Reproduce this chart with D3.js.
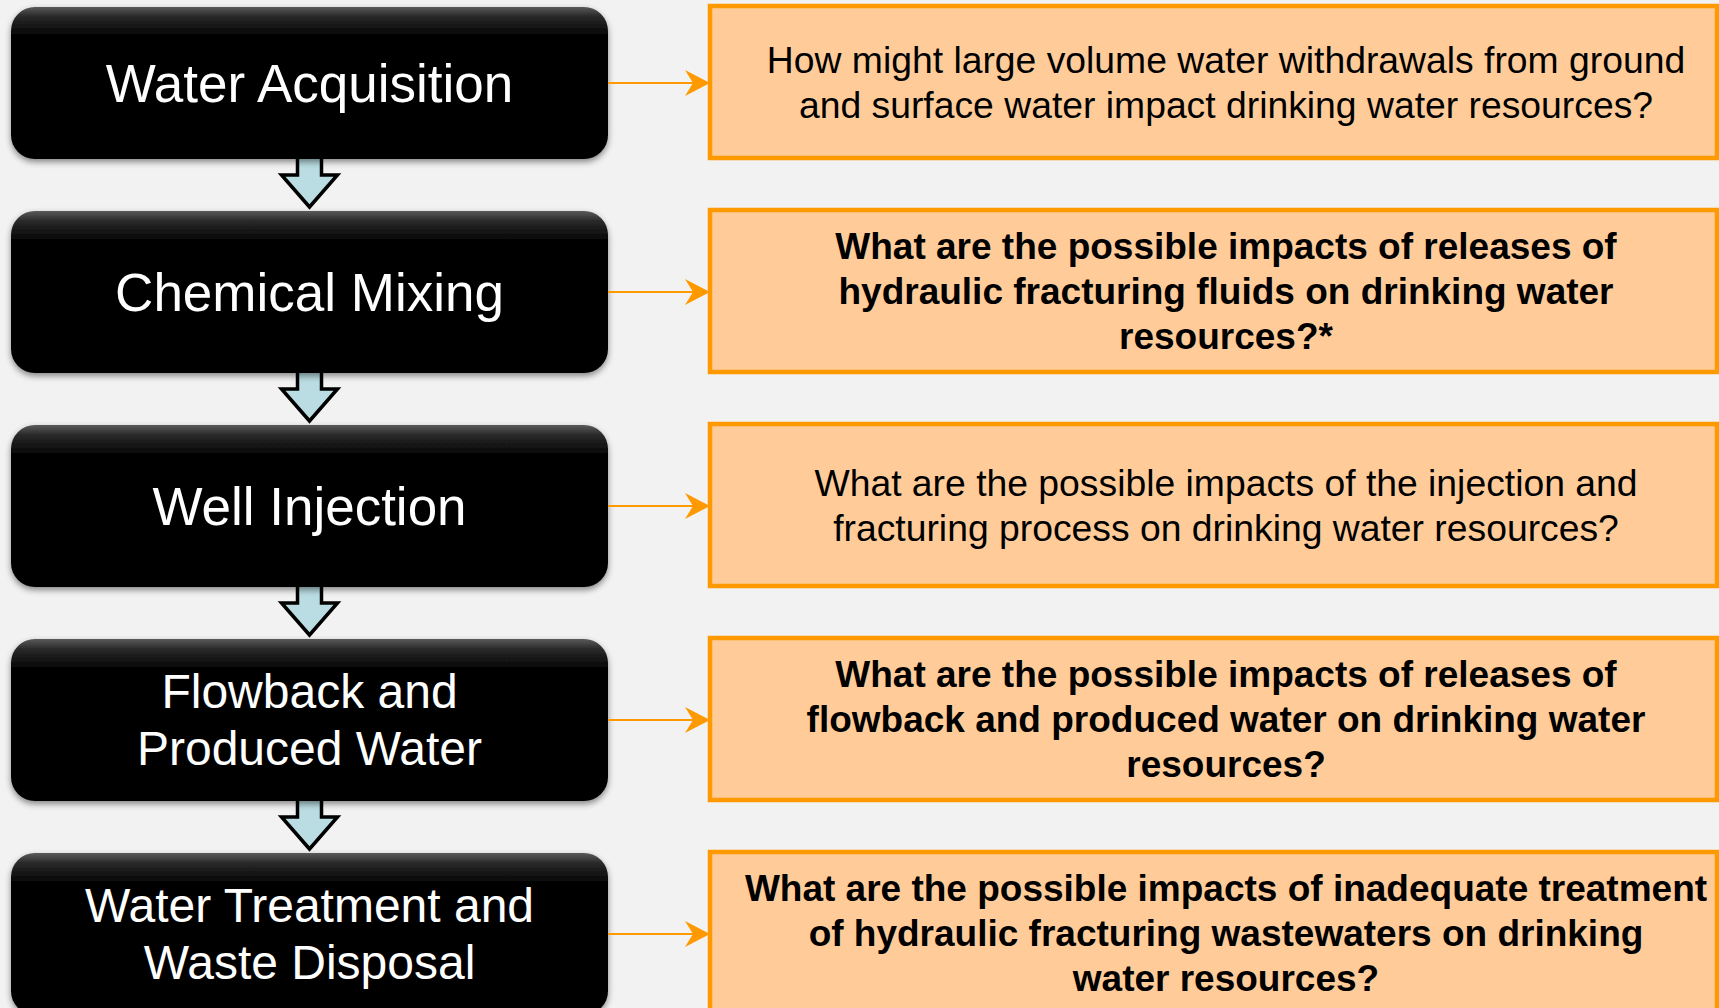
<!DOCTYPE html>
<html>
<head>
<meta charset="utf-8">
<script src="https://cdn.jsdelivr.net/npm/d3@7"></script>
<style>
  html, body { margin: 0; padding: 0; background: #f2f2f2; overflow: hidden; }
  text { font-family: "Liberation Sans", Arial, sans-serif; }
</style>
</head>
<body>
<div id="chart"></div>
<script>
// process stages (left column)
const stages = ['Water Acquisition', 'Chemical Mixing', 'Well Injection',
                'Flowback and Produced Water', 'Water Treatment and Waste Disposal']
const stageLines = [
    ['Water Acquisition'],
    ['Chemical Mixing'],
    ['Well Injection'],
    ['Flowback and', 'Produced Water'],
    ['Water Treatment and', 'Waste Disposal']
]
// research questions (right column)
const questionLines = [
    ['How might large volume water withdrawals from ground', 'and surface water impact drinking water resources?'],
    ['What are the possible impacts of releases of', 'hydraulic fracturing fluids on drinking water', 'resources?*'],
    ['What are the possible impacts of the injection and', 'fracturing process on drinking water resources?'],
    ['What are the possible impacts of releases of', 'flowback and produced water on drinking water', 'resources?'],
    ['What are the possible impacts of inadequate treatment', 'of hydraulic fracturing wastewaters on drinking', 'water resources?']
]
const questionBold = [false, true, false, true, true]

const W = 1719, H = 1008
const translate = (x, y) => 'translate(' + x + ', ' + y + ')'

const svg = d3.select('#chart').append('svg')
    .attr('width', W).attr('height', H)

const defs = svg.append('defs')
const grad = defs.append('linearGradient').attr('id', 'gloss')
    .attr('x1', 0).attr('y1', 0).attr('x2', 0).attr('y2', 1)
grad.append('stop').attr('offset', '0%').attr('stop-color', '#5a5a5a')
grad.append('stop').attr('offset', '6%').attr('stop-color', '#2a2a2a')
grad.append('stop').attr('offset', '18%').attr('stop-color', '#050505')
grad.append('stop').attr('offset', '100%').attr('stop-color', '#000')
const shadow = defs.append('filter').attr('id', 'shadow')
    .attr('x', '-5%').attr('y', '-10%').attr('width', '110%').attr('height', '130%')
shadow.append('feDropShadow').attr('dx', 0).attr('dy', 3)
    .attr('stdDeviation', 3).attr('flood-color', '#000').attr('flood-opacity', 0.45)

// rows (first row starts above the page and is trimmed at the top)
const step = 214, gap = 52
const y = d3.scaleBand()
    .domain(stages)
    .range([-3, -3 + step * (stages.length - gap / step)])
    .paddingInner(gap / step)
    .paddingOuter(0)
const bw = y.bandwidth()
const minTop = 7
const rowTop = d => Math.max(y(d), minTop)
const rowH = d => y(d) + bw - rowTop(d)
const rowMid = d => rowTop(d) + rowH(d) / 2

const leftX = 11, leftW = 597
const rightX = 710, rightW = 1007
const textCx = 1226
const lineH = 45

// down arrows between stages
const arrowX = leftX + leftW / 2
stages.slice(0, -1).forEach((s, i) => {
    const top = y(s) + bw - 2
    const bot = y(stages[i + 1]) - 4
    const headTop = bot - 32
    const p = d3.path()
    p.moveTo(arrowX - 12, top)
    p.lineTo(arrowX + 12, top)
    p.lineTo(arrowX + 12, headTop)
    p.lineTo(arrowX + 28, headTop)
    p.lineTo(arrowX, bot)
    p.lineTo(arrowX - 28, headTop)
    p.lineTo(arrowX - 12, headTop)
    p.closePath()
    svg.append('path').attr('d', p.toString())
        .attr('fill', '#b9dde2').attr('stroke', '#000')
        .attr('stroke-width', 3.5).attr('stroke-linejoin', 'miter')
})

// left black boxes
const left = svg.selectAll('g.stage').data(stages).join('g')
    .attr('class', 'stage')
    .attr('transform', d => translate(leftX, rowTop(d)))
left.append('rect')
    .attr('width', leftW).attr('height', d => rowH(d))
    .attr('rx', 24).attr('ry', 24)
    .attr('fill', 'url(#gloss)')
    .attr('filter', 'url(#shadow)')
left.each(function (d, i) {
    const lines = stageLines[i]
    d3.select(this).selectAll('text').data(lines).join('text')
        .attr('x', leftW / 2)
        .attr('y', (l, j) => rowH(d) / 2 + (j - (lines.length - 1) / 2) * 57)
        .attr('dy', '0.35em')
        .attr('text-anchor', 'middle')
        .attr('fill', '#fff')
        .attr('font-size', lines.length > 1 ? 48 : 53)
        .text(l => l)
})

// connectors
stages.forEach((s) => {
    const cy = rowMid(s)
    svg.append('line')
        .attr('x1', leftX + leftW).attr('x2', rightX - 4)
        .attr('y1', cy).attr('y2', cy)
        .attr('stroke', '#ff9900').attr('stroke-width', 2)
    svg.append('path')
        .attr('d', 'M0,0 L-25,-13 L-17,0 L-25,13 Z')
        .attr('transform', translate(rightX, cy))
        .attr('fill', '#ff9900')
})

// right orange boxes
const right = svg.selectAll('g.question').data(stages).join('g')
    .attr('class', 'question')
    .attr('transform', d => translate(rightX, rowTop(d) - 1))
right.append('rect')
    .attr('width', rightW).attr('height', d => rowH(d))
    .attr('fill', '#ffcc99')
    .attr('stroke', '#ff9900').attr('stroke-width', 4.5)
right.each(function (d, i) {
    const lines = questionLines[i]
    d3.select(this).selectAll('text').data(lines).join('text')
        .attr('x', textCx - rightX)
        .attr('y', (l, j) => rowH(d) / 2 + (j - (lines.length - 1) / 2) * lineH)
        .attr('dy', '0.35em')
        .attr('text-anchor', 'middle')
        .attr('fill', '#000')
        .attr('font-size', questionBold[i] ? 37 : 37.3)
        .attr('font-weight', questionBold[i] ? 'bold' : 'normal')
        .text(l => l)
})
</script>
</body>
</html>
